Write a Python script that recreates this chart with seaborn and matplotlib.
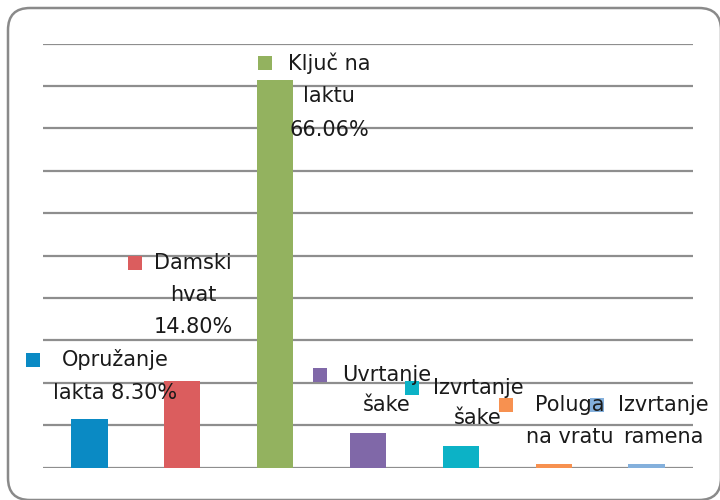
import matplotlib
matplotlib.use("Agg")
import matplotlib.pyplot as plt
import seaborn as sns
import pandas as pd
import numpy as np
from matplotlib.transforms import Affine2D
from matplotlib.patches import FancyBboxPatch, Rectangle

# ---- data ----
categories = ["Opružanje lakta", "Damski hvat", "Ključ na laktu", "Uvrtanje šake",
              "Izvrtanje šake", "Poluga na vratu", "Izvrtanje ramena"]
values = [8.30, 14.80, 66.06, 5.80, 3.70, 0.67, 0.67]
colors = ["#0a8ac4", "#db5d5e", "#93b25f", "#8068a8", "#0cb2c6", "#f79150", "#84b0dc"]
label_lines = [
    ["Opružanje", "lakta 8.30%"],
    ["Damski", "hvat", "14.80%"],
    ["Ključ na", "laktu", "66.06%"],
    ["Uvrtanje", "šake"],
    ["Izvrtanje", "šake"],
    ["Poluga", "na vratu"],
    ["Izvrtanje", "ramena"],
]

df = pd.DataFrame({"cat": categories, "val": values})

sns.set_theme(style="white")
plt.rcParams["font.family"] = ["DejaVu Sans"]

W, H = 720, 500
fig = plt.figure(figsize=(W / 100, H / 100), dpi=100)
ax = fig.add_axes([43 / W, 1 - 467.5 / H, 650 / W, 424 / H])

sns.barplot(data=df, x="cat", y="val", hue="cat", palette=colors, legend=False,
            width=0.39, ax=ax, saturation=1, dodge=False, linewidth=0)

ymax = 72.3
ax.set_ylim(0, ymax)
ax.set_xlim(-0.5, len(categories) - 0.5)
ax.set_yticks(np.linspace(0, ymax, 11))
ax.yaxis.grid(True, color="#8e8e8e", lw=1.6)
ax.set_axisbelow(True)
ax.tick_params(left=False, bottom=False, labelleft=False, labelbottom=False)
for s in ax.spines.values():
    s.set_visible(False)
ax.set_xlabel("")
ax.set_ylabel("")

# pixel transform (origin top-left)
px = Affine2D().scale(1 / W, -1 / H).translate(0, 1) + fig.transFigure

# border
border = FancyBboxPatch((8, 8), 713, 492, boxstyle="round,pad=0,rounding_size=22",
                        transform=px, facecolor="none", edgecolor="#8a8a8a", lw=1.8,
                        clip_on=False)
fig.patches.append(border)

# data labels with legend keys: (marker left x, text center x, first line y, line step)
label_pos = [
    (26, 115, 360, 33),
    (128, 193, 263, 32),
    (258, 329, 63, 33.5),
    (313, 387, 375, 30),
    (405, 478, 388, 30),
    (499, 570, 405, 32),
    (590, 663, 405, 32),
]
for (mx, cx, y1, step), lines, col in zip(label_pos, label_lines, colors):
    fig.patches.append(Rectangle((mx, y1 - 7), 14, 14, transform=px,
                                 facecolor=col, edgecolor="none"))
    for k, t in enumerate(lines):
        fig.text(cx, y1 + k * step, t, transform=px, ha="center", va="center",
                 fontsize=15, color="#1a1a1a")

fig.savefig("out.png", dpi=100)
